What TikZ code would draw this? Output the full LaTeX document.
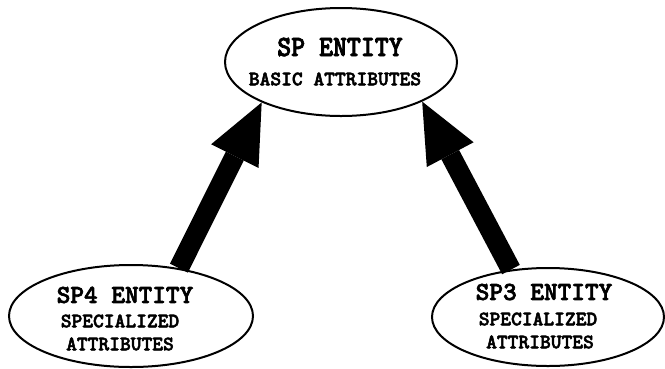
\documentclass[tikz,border=0pt]{standalone}
\usepackage{fontspec}
\usetikzlibrary{arrows.meta,shapes.geometric}
% heavy typewriter faces for the entity labels
\newfontface\heavytt{lmmonolt10-bold.otf}[FakeBold=2.5]
\newfontface\narrowtt{lmmonolt10-bold.otf}[FakeBold=2.5,FakeStretch=0.9]
\begin{document}
\begin{tikzpicture}[x=1pt,y=-1pt,
  entity/.style={ellipse, draw, line width=2pt, inner sep=0pt},
  bigtitle/.style={font=\narrowtt\fontsize{29.5}{29.5}\selectfont, inner sep=0pt},
  title/.style={font=\heavytt\fontsize{26}{26}\selectfont, inner sep=0pt},
  attr/.style={font=\heavytt\fontsize{20.5}{20.5}\selectfont, inner sep=0pt},
  inherit/.style={line width=20pt, -{Triangle[length=60pt,width=53pt,line width=0pt]}}]
  \useasboundingbox[fill=white] (0,0) rectangle (665,368);

  % entity ellipses
  \node[entity, minimum width=232pt, minimum height=108pt] (sp)  at (341,62)  {};
  \node[entity, minimum width=244pt, minimum height=102pt] (sp4) at (131,316) {};
  \node[entity, minimum width=232pt, minimum height=98pt]  (sp3) at (548,317) {};

  % labels
  \node[bigtitle] (spname)  at (340,47)  {SP ENTITY};
  \node[attr]     (spattr)  at (335,79)  {BASIC ATTRIBUTES};

  \node[title] (sp4name)  at (125,295) {SP4 ENTITY};
  \node[attr]  (sp4spec)  at (120,321) {SPECIALIZED};
  \node[attr]  (sp4attr)  at (120,344) {ATTRIBUTES};

  \node[title] (sp3name)  at (544,292) {SP3 ENTITY};
  \node[attr]  (sp3spec)  at (538,319) {SPECIALIZED};
  \node[attr]  (sp3attr)  at (540,342) {ATTRIBUTES};

  % inheritance arrows
  \draw[inherit] (sp4.45) -- (sp.207);
  \draw[inherit] (sp3.128) -- (sp.334);
\end{tikzpicture}
\end{document}
